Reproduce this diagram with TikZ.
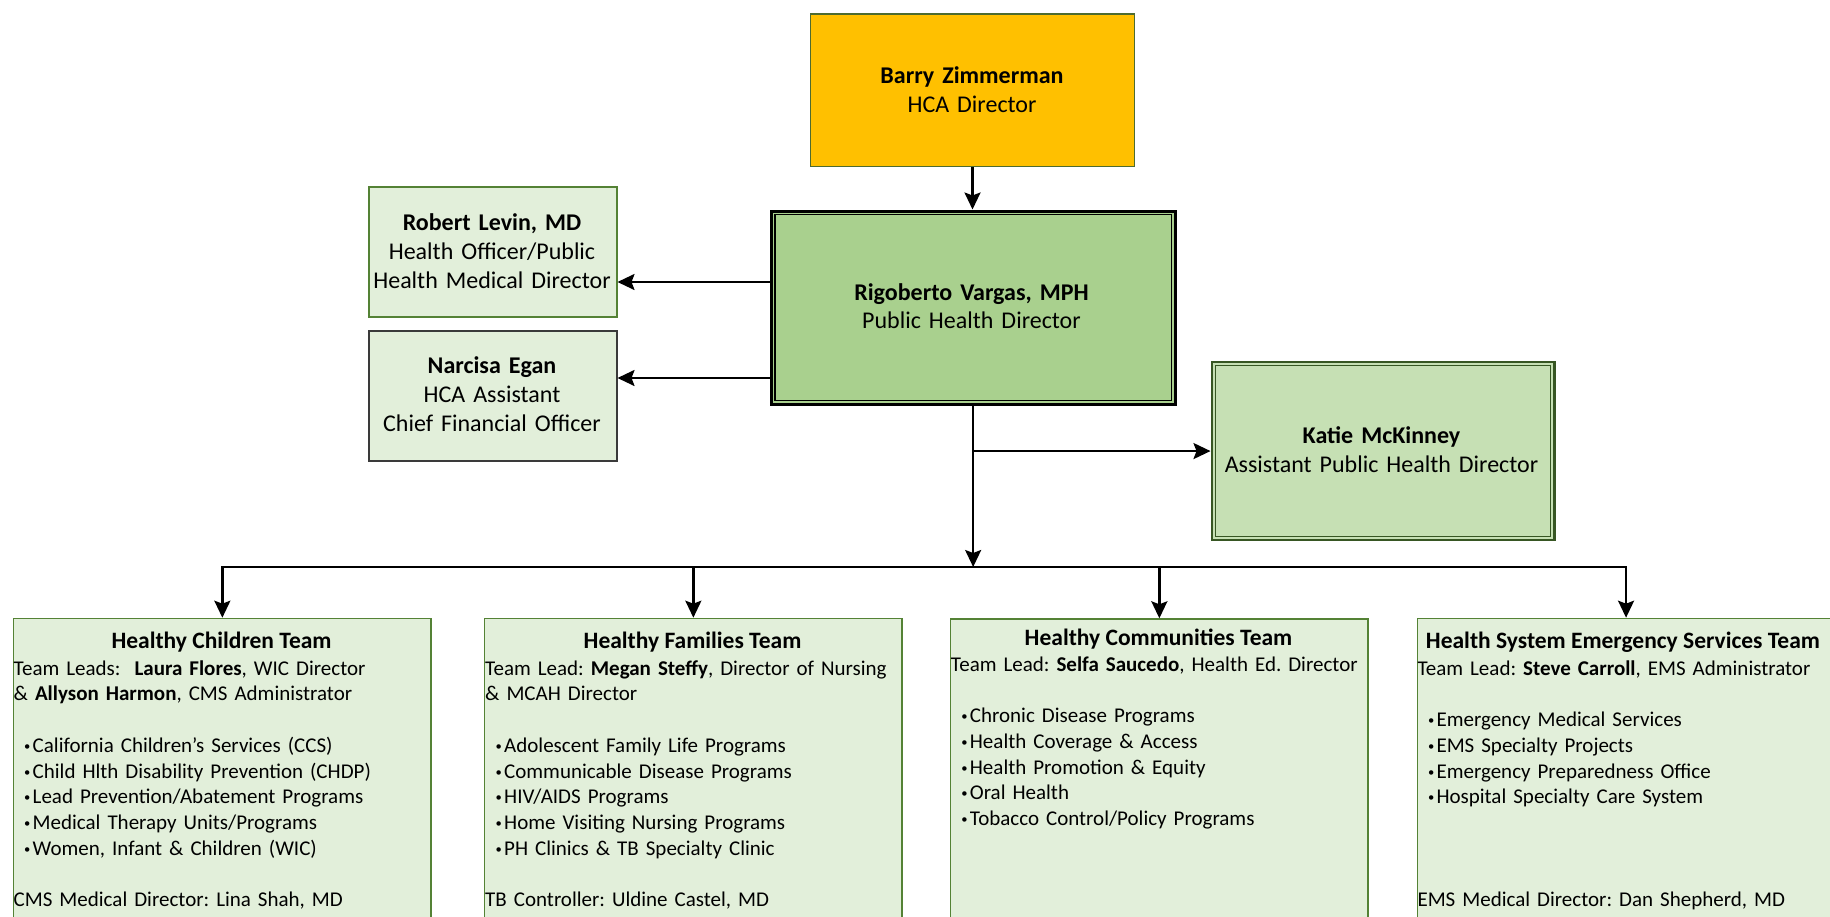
\documentclass[tikz,border=0pt]{standalone}
\usepackage{fontspec}
\usepackage{graphicx}
\setmainfont{Carlito}
\usetikzlibrary{arrows.meta}
\definecolor{gold}{HTML}{FFC000}
\definecolor{goldedge}{HTML}{4E6B30}
\definecolor{midgreen}{HTML}{A9D08E}
\definecolor{lightgreen}{HTML}{E2EFDA}
\definecolor{katgreen}{HTML}{C6E0B4}
\definecolor{edgegreen}{HTML}{548235}
\definecolor{darkgreen}{HTML}{375623}
\definecolor{darkgray}{HTML}{3A3A3A}
\newcommand\bul{\hspace*{10.5pt}\makebox[8.5pt][l]{\raisebox{1.8pt}{\scalebox{0.6}{\textbullet}}}}
\frenchspacing
\begin{document}
\frenchspacing
\begin{tikzpicture}[x=1pt,y=-1pt,
  box/.style={rectangle,inner sep=0pt,anchor=north west},
  toptext/.style={inner sep=0pt,anchor=north,align=center,text width=330pt,font=\fontsize{24}{29}\selectfont},
  teamtitle/.style={inner sep=0pt,anchor=base,font=\fontsize{23.5}{28}\selectfont\bfseries},
  teambody/.style={inner sep=0pt,anchor=north west,align=left,text width=440pt,font=\fontsize{21}{25.7}\selectfont\frenchspacing},
  arr/.style={draw=black,line width=2.3pt,-{Stealth[length=17pt,width=16pt,inset=3pt]}},
  teambox/.style={box,fill=lightgreen,draw=edgegreen,line width=1.4pt,minimum width=417.3pt,minimum height=400pt}]
\useasboundingbox (0,0) rectangle (1830,916);
\clip (0,0) rectangle (1830,916);

% top boxes
\node[box,fill=gold,draw=goldedge,line width=1.3pt,minimum width=323.7pt,minimum height=152.7pt] (barry) at (810,13.3) {};
\node[box,fill=midgreen,draw=black,line width=3pt,minimum width=403.7pt,minimum height=193pt] (rv) at (769.8,209.5) {};
\draw[black,line width=1.5pt] ([shift={(5,5)}]rv.north west) rectangle ([shift={(-5,-5)}]rv.south east);
\node[box,fill=lightgreen,draw=edgegreen,line width=1.5pt,minimum width=248pt,minimum height=130pt] (lev) at (368,186) {};
\node[box,fill=lightgreen,draw=darkgray,line width=1.5pt,minimum width=248pt,minimum height=130pt] (egan) at (368,330) {};
\node[box,fill=katgreen,draw=darkgreen,line width=2.7pt,minimum width=342.5pt,minimum height=178pt] (kat) at (1210.5,360.7) {};
\draw[darkgreen,line width=1.5pt] ([shift={(5,5)}]kat.north west) rectangle ([shift={(-5,-5)}]kat.south east);

% top texts
\node[toptext] (barryT) at (972,62.7) {\strut\textbf{Barry Zimmerman}\\HCA Director};
\node[toptext,font=\fontsize{24}{28}\selectfont] (rvT) at (971.5,280.4) {\strut\textbf{Rigoberto Vargas, MPH}\\Public Health Director};
\node[toptext] (levT) at (492,209.7) {\strut\textbf{Robert Levin, MD}\\Health Officer/Public\\Health Medical Director};
\node[toptext] (eganT) at (492,352.7) {\strut\textbf{Narcisa Egan}\\HCA Assistant\\Chief Financial Officer};
\node[toptext] (katT) at (1381.5,422.7) {\strut\textbf{Katie McKinney}\\Assistant Public Health Director};

% team boxes
\node[teambox] (t1) at (13,617.7) {};
\node[teambox] (t2) at (484,617.7) {};
\node[teambox] (t3) at (950,618.3) {};
\node[teambox] (t4) at (1416.7,617.7) {};

\node[teamtitle] (t1T) at (221.5,648) {Healthy Children Team};
\node[teamtitle] (t2T) at (692.5,648) {Healthy Families Team};
\node[teamtitle] (t3T) at (1158.5,645) {Healthy Communities Team};
\node[teamtitle] (t4T) at (1623,648) {Health System Emergency Services Team};

\node[teambody] (t1B) at (13.5,657) {\strut Team Leads:\ \ \textbf{Laura Flores}, WIC Director\\
\& \textbf{Allyson Harmon}, CMS Administrator\\[25.7pt]
\bul California Children’s Services (CCS)\\
\bul Child Hlth Disability Prevention (CHDP)\\
\bul Lead Prevention/Abatement Programs\\
\bul Medical Therapy Units/Programs\\
\bul Women, Infant \& Children (WIC)\\[25.7pt]
CMS Medical Director: Lina Shah, MD};

\node[teambody] (t2B) at (485,657) {\strut Team Lead: \textbf{Megan Steffy}, Director of Nursing\\
\& MCAH Director\\[25.7pt]
\bul Adolescent Family Life Programs\\
\bul Communicable Disease Programs\\
\bul HIV/AIDS Programs\\
\bul Home Visiting Nursing Programs\\
\bul PH Clinics \& TB Specialty Clinic\\[25.7pt]
TB Controller: Uldine Castel, MD};

\node[teambody] (t3B) at (950.7,653) {\strut Team Lead: \textbf{Selfa Saucedo}, Health Ed. Director\\[25.7pt]
\bul Chronic Disease Programs\\
\bul Health Coverage \& Access\\
\bul Health Promotion \& Equity\\
\bul Oral Health\\
\bul Tobacco Control/Policy Programs};

\node[teambody] (t4B) at (1417.3,657) {\strut Team Lead: \textbf{Steve Carroll}, EMS Administrator\\[25.7pt]
\bul Emergency Medical Services\\
\bul EMS Specialty Projects\\
\bul Emergency Preparedness Office\\
\bul Hospital Specialty Care System\\[77.1pt]
EMS Medical Director: Dan Shepherd, MD};

% connectors
\draw[arr] (barry.south) -- (barry.south |- rv.north);
\draw[arr] (rv.west |- 0,282) -- (lev.east |- 0,282);
\draw[arr] (rv.west |- 0,378) -- (egan.east |- 0,378);
\coordinate (bus) at (rv.south |- 0,567);
\draw[arr] (rv.south |- kat.west) -- (kat.west);
\draw[arr] (rv.south) -- (bus);
\draw[arr] (bus) -| (t1.north);
\draw[arr] (bus) -| (t4.north);
\draw[arr] (bus -| t2.north) -- (t2.north);
\draw[arr] (bus -| t3.north) -- (t3.north);
\end{tikzpicture}
\end{document}
